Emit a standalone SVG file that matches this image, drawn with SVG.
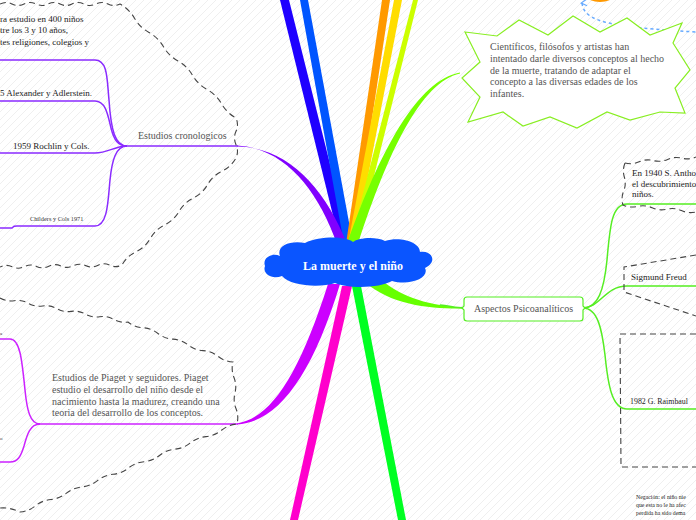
<svg xmlns="http://www.w3.org/2000/svg" width="696" height="520" viewBox="0 0 696 520">
<defs>
<pattern id="stripes" width="8" height="8" patternUnits="userSpaceOnUse">
<path d="M-1,9 L9,-1" stroke="#efefef" stroke-width="1"/>
</pattern>
<marker id="arr" viewBox="0 0 10 10" refX="5" refY="2" markerWidth="8" markerHeight="8" orient="auto-start-reverse" markerUnits="userSpaceOnUse">
<path d="M1,8 L5,1 L9,8" fill="none" stroke="#66aaff" stroke-width="1.5"/>
</marker>
</defs>
<style>
.txt{font-family:"Liberation Serif","Times New Roman",serif;}
.main{font-size:10px;fill:#555;}
.sub{font-size:9px;fill:#222;}
.dash{fill:none;stroke:#444;stroke-width:1.1;stroke-dasharray:6,4;}
.vio{fill:none;stroke:#8a2bff;stroke-width:1.5;}
.mag{fill:none;stroke:#cc22ff;stroke-width:1.5;}
.grn{fill:none;stroke:#55ee22;stroke-width:1.5;}
</style>
<rect x="0" y="0" width="696" height="520" fill="#ffffff"/>
<rect x="0" y="0" width="696" height="520" fill="url(#stripes)"/>

<g id="connectors">
<polygon points="280,0 289,0 350,244 340,244" fill="#1f00ff"/>
<polygon points="300,0 308,0 353,244 344,244" fill="#0055ff"/>
<polygon points="382,0 390,0 353,244 346,244" fill="#ff9900"/>
<polygon points="394,0 402,0 355,244 348,244" fill="#ffdd00"/>
<polygon points="413,0 418,0 357,244 350,244" fill="#ccff00"/>
<path d="M460,72.5 C418,80 380,150 347,244 L358,244 C388,152 421,82 460,73.5 Z" fill="#77ff00"/>
<path d="M237,145.5 C285,148 318,190 337,244 L347,244 C325,188 288,147 237,146.5 Z" fill="#8000ff"/>
<path d="M237,423.5 C272,418 300,372 328,284 L340,284 C312,376 278,422 237,424.5 Z" fill="#cc00ff"/>
<polygon points="342,286 352,286 298,520 290,520" fill="#ff00cc"/>
<polygon points="352,286 361,286 406,520 398,520" fill="#00ff22"/>
<path d="M366,283 C392,305 430,309 463,308.5 L463,307.5 C432,306 402,298 380,279 Z" fill="#66ff00"/>

<path class="vio" d="M0,60 L95,60 C108,60 107,80 109,100 C111,130 115,146 127,146"/>
<path class="vio" d="M0,101 L95,101 C106,101 108,116 111,128 C114,140 118,146 127,146"/>
<path class="vio" d="M0,153 L95,153 C108,153 115,146 127,146"/>
<path class="vio" d="M0,228 L12,228 C14,226 14,226 17,226 L95,226 C108,226 108,200 110,180 C112,160 116,146 127,146"/>
<path class="vio" d="M125,146 L238,146"/>

<path class="mag" d="M40,424 C30,424 27,410 25,390 C22,360 20,339 10,339 L0,339"/>
<path class="mag" d="M40,424 C30,424 27,435 24,446 C21,456 18,462 10,462 L0,462"/>
<path class="mag" d="M38,424 L238,424"/>

<path class="grn" d="M440,305 C450,306 456,308 464,308"/>
<path class="grn" d="M583,308 C598,308 604,290 607,260 C610,225 612,204 627,204 L696,204"/>
<path class="grn" d="M583,308 C600,308 605,286 627,286 L696,286"/>
<path class="grn" d="M583,308 C598,308 602,330 605,355 C608,385 612,409 627,409 L696,409"/>

<path d="M582,3 C584,22 610,27 696,32" fill="none" stroke="#66aaff" stroke-width="1.5" stroke-dasharray="3,3" marker-start="url(#arr)"/>
</g>

<g id="n_top_orange">
<ellipse cx="600" cy="-4" rx="13" ry="6" fill="#ff9900"/>
</g>

<g id="n_cronologicos_cloud">
<path class="dash" d="M0,4 q6,-3 12,0 t12,0 t12,0 t12,0 t12,0 t12,0 t12,0 t12,0 t12,0 t12,0
 q9.25,5.125 14.5,14.25 t14.5,14.25 t14.5,14.25 t14.5,14.25 t14.5,14.25 t14.5,14.25 t14.5,14.25 t14.5,14.25
 q3,6.67 0,13.33 t0,13.33 t0,13.33
 q-5.1,8.9 -14.25,13.375 t-14.25,13.375 t-14.25,13.375 t-14.25,13.375 t-14.25,13.375 t-14.25,13.375 t-14.25,13.375 t-14.25,13.375
 q-6.1,3.1 -12.2,0.2 t-12.2,0.2 t-12.2,0.2 t-12.2,0.2 t-12.2,0.2 t-12.2,0.2 t-12.2,0.2 t-12.2,0.2 t-12.2,0.2 t-12.2,0.2"/>
<text class="txt sub" x="0" y="22">ra estudio en 400 niños</text>
<text class="txt sub" x="0" y="33">tre los 3 y 10 años,</text>
<text class="txt sub" x="0" y="45">tes religiones, colegios y</text>
</g>

<g id="n_estudios_cronologicos">
<text class="txt main" x="138" y="139">Estudios cronologicos</text>
</g>
<g id="n_alexander">
<text class="txt sub" x="0" y="96">5 Alexander y Adlerstein.</text>
</g>
<g id="n_rochlin">
<text class="txt sub" x="13" y="149">1959 Rochlin y Cols.</text>
</g>
<g id="n_childers">
<text class="txt" x="30" y="221" font-size="6.3" fill="#333">Childers y Cols 1971</text>
</g>

<g id="n_piaget">
<path class="dash" d="M0,298 q6.65,3.79 14.22,2.67 t14.22,2.67 t14.22,2.67 t14.22,2.67 t14.22,2.67 t14.22,2.67 t14.22,2.67 t14.22,2.67 t14.22,2.67
 q6.61,5.2 15,5.71 t15,5.71 t15,5.71 t15,5.71 t15,5.71 t15,5.71 t15,5.71
 q-2,7.91 1,15.5 t1,15.5 t1,15.5 t1,15.5
 q-8.69,0.82 -15.5,6.29 t-15.5,6.29 t-15.5,6.29 t-15.5,6.29 t-15.5,6.29 t-15.5,6.29 t-15.5,6.29 t-15.5,6.29 t-15.5,6.29 t-15.5,6.29 t-15.5,6.29 t-15.5,6.29 t-15.5,6.29 t-15.5,6.29
 q-10,-5 -20,-4"/>
<text class="txt main" x="52" y="381">Estudios de Piaget y seguidores. Piaget</text>
<text class="txt main" x="52" y="393">estudio el desarrollo del niño desde el</text>
<text class="txt main" x="52" y="405">nacimiento hasta la madurez, creando una</text>
<text class="txt main" x="52" y="416">teoria del desarrollo de los conceptos.</text>
</g>
<g id="n_piaget_sub1"><text class="txt" x="0" y="335" font-size="5" fill="#333">a</text></g>
<g id="n_piaget_sub2"><text class="txt" x="0" y="440" font-size="5" fill="#333">o</text></g>

<g id="n_cientificos">
<polygon points="465,32 497,36 519,20 548,35 573,16 600,32 627,18 650,35 682,23 673,43 690,70 675,88 685,113 660,112 630,120 607,112 577,128 550,117 523,126 503,112 468,122 480,97 462,78 480,62" fill="#ffffff" stroke="#88ee22" stroke-width="1.2"/>
<text class="txt main" x="490" y="50">Científicos, filósofos y artistas han</text>
<text class="txt main" x="490" y="62">intentado darle diversos conceptos al hecho</text>
<text class="txt main" x="490" y="74">de la muerte, tratando de adaptar el</text>
<text class="txt main" x="490" y="85">concepto a las diversas edades de los</text>
<text class="txt main" x="490" y="97">infantes.</text>
</g>

<g id="n_aspectos">
<path d="M467,297 L580,297 Q583,297 583,300 L583,306 L585,308 L583,310 L583,318 Q583,321 580,321 L467,321 Q464,321 464,318 L464,310 L462,308 L464,306 L464,300 Q464,297 467,297 Z" fill="#ffffff" stroke="#55ee22" stroke-width="1.2"/>
<text class="txt main" x="523.5" y="312" text-anchor="middle">Aspectos Psicoanalíticos</text>
</g>

<g id="n_anthony">
<path class="dash" d="M625,163 q7.31,1.89 14.2,-1.2 t14.2,-1.2 t14.2,-1.2 t14.2,-1.2 t14.2,-1.2"/>
<path class="dash" d="M625,163 q-2.83,6.88 -0.67,14 t-0.67,14 t-0.67,14 q7.06,3.19 14.6,1.4 t14.6,1.4 t14.6,1.4 t14.6,1.4 t14.6,1.4"/>
<text class="txt sub" x="632" y="176">En  1940 S. Antho</text>
<text class="txt sub" x="632" y="187">el descubrimiento</text>
<text class="txt sub" x="632" y="197">niños.</text>
</g>

<g id="n_freud">
<path class="dash" d="M696,255 L624,267 L624,292 L696,316"/>
<text class="txt sub" x="631" y="280">Sigmund Freud</text>
</g>

<g id="n_raimbault">
<path class="dash" d="M696,334 L620,334 L621,467 L696,467"/>
<text class="txt sub" x="630" y="404" textLength="58" lengthAdjust="spacingAndGlyphs">1982 G. Raimbaul</text>
</g>

<g id="n_negacion">
<text class="txt" x="636" y="499" font-size="5.8" fill="#222">Negación: el niño nie</text>
<text class="txt" x="636" y="507" font-size="5.8" fill="#222">que esta no le ha afec</text>
<text class="txt" x="636" y="515" font-size="5.8" fill="#222">perdida ha sido dema</text>
</g>

<g id="n_center">
<path d="M280,256 C272,252 262,258 265,266 C262,274 272,280 282,276 C290,286 320,288 335,283 C350,289 380,288 392,281 C410,286 430,278 425,268 C438,262 432,250 420,252 C420,242 400,236 385,241 C375,236 358,238 353,242 C345,236 320,236 305,243 C290,240 276,246 280,256 Z" fill="#0a55ff"/>
<text class="txt" x="353" y="270" text-anchor="middle" font-size="12" font-weight="bold" fill="#ffffff">La muerte y el niño</text>
</g>
</svg>
